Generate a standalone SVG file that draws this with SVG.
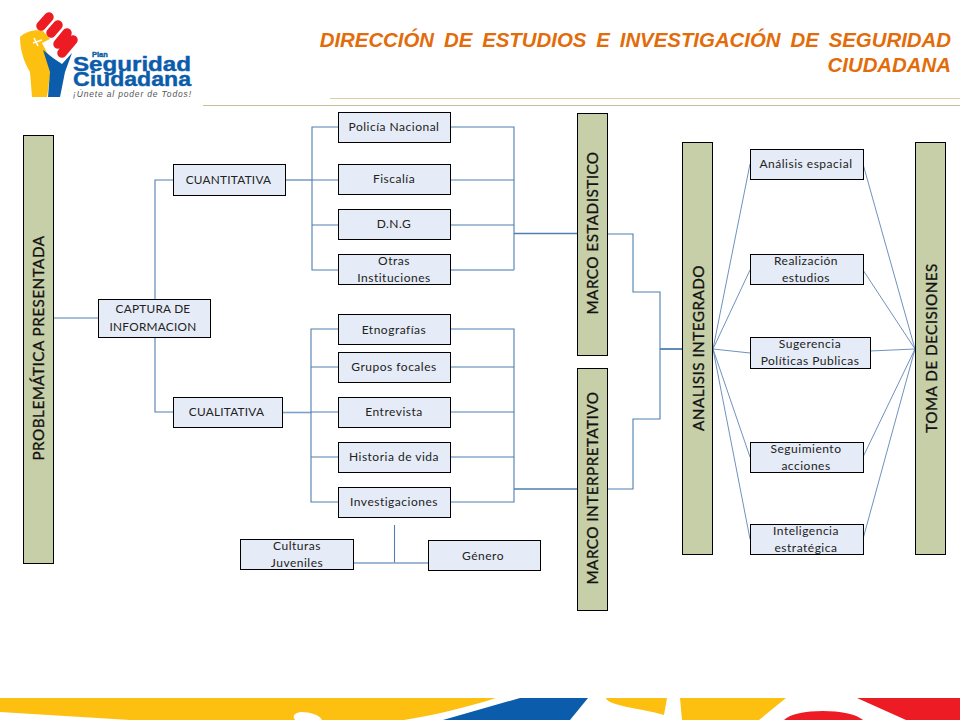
<svg xmlns="http://www.w3.org/2000/svg" width="960" height="720" viewBox="0 0 960 720">
<style>
text{font-family:"Lato","Noto Sans","Liberation Sans",sans-serif;fill:#222}
.b rect{fill:#e6ecf7;stroke:#000;stroke-width:1}
.b text{font-size:12px;text-anchor:middle;letter-spacing:.5px}
.b text.u{letter-spacing:.25px;font-size:11.8px}
.v rect{fill:#c6cfa8;stroke:#000;stroke-width:1}
.v text{font-size:15.3px;text-anchor:middle;letter-spacing:.45px;fill:#111;stroke:#111;stroke-width:.3px}
#connectors path{fill:none;stroke:#4f7fb0;stroke-width:1.1}
#connectors .t{stroke:#7fa0c8;stroke-width:1.6}
#connectors .f{stroke:#5f86b5;stroke-width:.9}
.title{font-family:"Liberation Sans",Arial,sans-serif;font-size:20.4px;font-weight:700;font-style:italic;fill:#e36c0a;text-anchor:end;word-spacing:4.2px}
.logo-t{font-family:"Liberation Sans",sans-serif;font-weight:700;fill:#0b5cab;stroke:#0b5cab;stroke-width:.4px}
</style>
<g id="logo">
<path fill="#fdc010" d="M20 37C26 31 36 29 43 31L50 39L42 43L52 62L47 97H32L30 72C24 62 20 50 20 37Z"/>
<path fill="#0b5cab" d="M43 50L53 58L62 64L72 53L65 72L60 97H48L50 72Z"/>
<path fill="none" stroke="#ed1c24" stroke-width="9.500" stroke-linecap="round" d="M41 26L49 17M51 33L58 25M58 44L67 33M62 53L73 40"/>
<path fill="none" stroke="#fff" stroke-width="1.500" d="M33 43L42 40M34 38L38 46"/>
<text class="logo-t" x="92" y="56.500" style="font-size:7.500px">Plan</text>
<text class="logo-t" x="73" y="71" textLength="118" lengthAdjust="spacingAndGlyphs" style="font-size:19.500px">Seguridad</text>
<text class="logo-t" x="73" y="86" textLength="118" lengthAdjust="spacingAndGlyphs" style="font-size:19.500px">Ciudadana</text>
<text x="73" y="97" textLength="118" style="font-family:'Liberation Sans',sans-serif;font-size:8.500px;font-style:italic;fill:#555">¡Únete al poder de Todos!</text>
</g>
<g id="header">
<text class="title" x="951" y="47">DIRECCIÓN DE ESTUDIOS E INVESTIGACIÓN DE SEGURIDAD</text>
<text class="title" x="951" y="72">CIUDADANA</text>
<path d="M330 98.500H960" stroke="#d9cfa8" fill="none"/>
<path d="M203 105.500H960" stroke="#c9bd98" fill="none"/>
</g>
<g id="footer">
<path fill="#fdc010" d="M0 698H496C465 708 430 716 404 720H130L0 712Z"/>
<path fill="#fff" d="M295 720C292 716 294 713 301 712C310 712 320 715 322 720Z"/>
<path fill="#0b5cab" d="M520 698H588L570 720H443Z"/>
<path fill="#fdc010" d="M606 698H667L664 715C640 708 608 706 606 698Z"/>
<path fill="#fdc010" d="M680 698H786L759 720H682Z"/>
<path fill="#ed1c24" d="M857 698H960V720H906Z"/>
<path fill="#ed1c24" d="M784 720C795 708 850 708 863 720Z"/>
</g>
<g id="connectors">
<path d="M53 318H98M155 299V180H173M155 337V412H173"/>
<path class="t" d="M285 180H312"/>
<path d="M339 127H312V270H339M312 180H338M312 225H338"/>
<path d="M450 127H514V270M450 180H514M450 225H514"/>
<path class="t" d="M450 270H514"/>
<path class="t" d="M514 233.500H577" style="stroke:#4f7fb0"/>
<path class="t" d="M282 412.500H311"/>
<path d="M338 329H311V502H338M311 367H338M311 412H338M311 457H338"/>
<path d="M450 329H514V502H450M450 367H514M450 412H514M450 457H514"/>
<path class="t" d="M514 489H577" style="stroke:#4f7fb0"/>
<path d="M607 234H633V292H660V349H682M607 489H633V419H660V349"/>
<path class="t" d="M660 349H682" style="stroke:#4f7fb0"/>
<path d="M394.500 525V563"/>
<path class="t" d="M353 563H428"/>
<path class="f" d="M713 349L750 164M713 349L750 270M713 349L750 353M713 349L750 457M713 349L750 539"/>
<path class="f" d="M863 164L915 349M863 270L915 349M870 351L915 349M863 457L915 349M863 539L915 349"/>
</g>
<g id="problematica" class="v"><rect x="23.500" y="135.500" width="30" height="428"/><text transform="translate(44,348) rotate(-90)">PROBLEMÁTICA PRESENTADA</text></g>
<g id="marco-estadistico" class="v"><rect x="577.500" y="113.500" width="30" height="242"/><text transform="translate(598,233) rotate(-90)">MARCO ESTADISTICO</text></g>
<g id="marco-interpretativo" class="v"><rect x="577.500" y="368.500" width="30" height="242"/><text transform="translate(598,488) rotate(-90)">MARCO INTERPRETATIVO</text></g>
<g id="analisis-integrado" class="v"><rect x="682.500" y="142.500" width="30" height="412"/><text transform="translate(704,348) rotate(-90)">ANALISIS INTEGRADO</text></g>
<g id="toma-decisiones" class="v"><rect x="915.500" y="142.500" width="30" height="412"/><text transform="translate(937,348) rotate(-90)">TOMA DE DECISIONES</text></g>
<g id="captura" class="b"><rect x="98.500" y="299.500" width="112" height="38"/><text class="u" x="153" y="313">CAPTURA DE</text><text class="u" x="153" y="331">INFORMACION</text></g>
<g id="cuantitativa" class="b"><rect x="173.500" y="164.500" width="112" height="31"/><text class="u" x="228.500" y="184">CUANTITATIVA</text></g>
<g id="cualitativa" class="b"><rect x="173.500" y="397.500" width="109" height="30"/><text class="u" x="226.500" y="416">CUALITATIVA</text></g>
<g id="policia" class="b"><rect x="338.500" y="112.500" width="112" height="30"/><text x="394" y="131">Policía Nacional</text></g>
<g id="fiscalia" class="b"><rect x="338.500" y="164.500" width="112" height="30"/><text x="394" y="183">Fiscalía</text></g>
<g id="dng" class="b"><rect x="338.500" y="209.500" width="112" height="30"/><text x="394" y="228">D.N.G</text></g>
<g id="otras" class="b"><rect x="338.500" y="254.500" width="112" height="30"/><text x="394" y="265">Otras</text><text x="394" y="282">Instituciones</text></g>
<g id="etnografias" class="b"><rect x="338.500" y="314.500" width="112" height="30"/><text x="394" y="334">Etnografías</text></g>
<g id="grupos" class="b"><rect x="338.500" y="352.500" width="112" height="30"/><text x="394" y="371">Grupos focales</text></g>
<g id="entrevista" class="b"><rect x="338.500" y="397.500" width="112" height="30"/><text x="394" y="416">Entrevista</text></g>
<g id="historia" class="b"><rect x="338.500" y="442.500" width="112" height="30"/><text x="394" y="461">Historia de vida</text></g>
<g id="investigaciones" class="b"><rect x="338.500" y="487.500" width="112" height="30"/><text x="394" y="506">Investigaciones</text></g>
<g id="culturas" class="b"><rect x="240.500" y="539.500" width="113" height="30"/><text x="297" y="550">Culturas</text><text x="297" y="567">Juveniles</text></g>
<g id="genero" class="b"><rect x="428.500" y="540.500" width="112" height="30"/><text x="483" y="560">Género</text></g>
<g id="analisis-espacial" class="b"><rect x="750.500" y="149.500" width="113" height="30"/><text x="806" y="168">Análisis espacial</text></g>
<g id="realizacion" class="b"><rect x="750.500" y="254.500" width="113" height="30"/><text x="806" y="265">Realización</text><text x="806" y="282">estudios</text></g>
<g id="sugerencia" class="b"><rect x="750.500" y="337.500" width="120" height="31"/><text x="810" y="348">Sugerencia</text><text x="810" y="365">Políticas Publicas</text></g>
<g id="seguimiento" class="b"><rect x="750.500" y="442.500" width="113" height="30"/><text x="806" y="453">Seguimiento</text><text x="806" y="470">acciones</text></g>
<g id="inteligencia" class="b"><rect x="750.500" y="524.500" width="113" height="30"/><text x="806" y="535">Inteligencia</text><text x="806" y="552">estratégica</text></g>
</svg>
